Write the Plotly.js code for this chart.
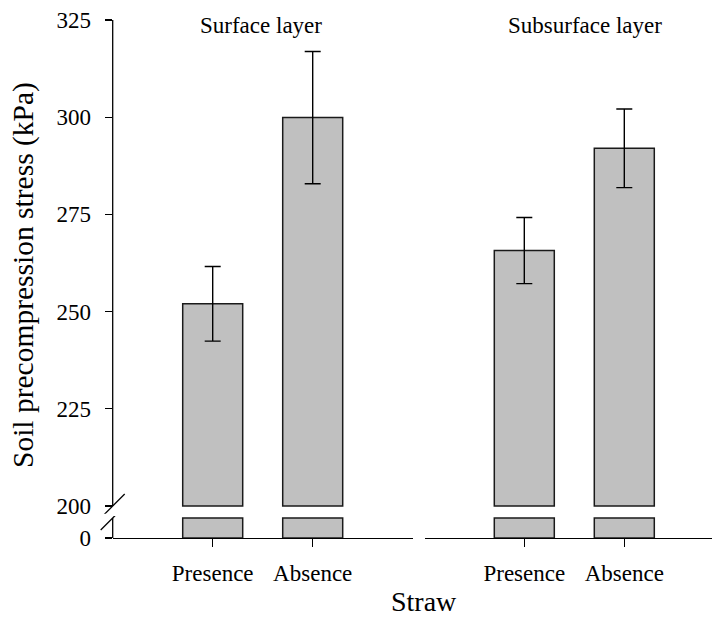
<!DOCTYPE html>
<html>
<head>
<meta charset="utf-8">
<script src="https://cdn.plot.ly/plotly-3.0.1.min.js"></script>
<style>html,body{margin:0;padding:0;background:#fff;}#chart{width:712px;height:619px;}</style>
</head>
<body>
<div id="chart"></div>
<script>
// ---- data ----
const categories = ["Presence", "Absence"];
const surfaceValues = [252.0, 299.9];
const surfaceErrors = [9.6, 17.0];
const subsurfaceValues = [265.7, 292.0];
const subsurfaceErrors = [8.5, 10.1];
const panelTitles = ["Surface layer", "Subsurface layer"];
const upperTicks = [200, 225, 250, 275, 300, 325];
const lowerTicks = [0];
const xTitle = "Straw";
const yTitle = "Soil precompression stress (kPa)";

// ---- layout helpers (pixel -> paper) ----
const W = 712, H = 619;
const px = v => v / W;
const py = v => 1 - v / H;
const breakLow = 200;   // upper segment starts here
const stubTop = 20;     // height of lower stub on the lower axis
const FONT = '"Liberation Serif", "Times New Roman", serif';
const barFill = '#c0c0c0';
const barLine = {color: '#1a1a1a', width: 1.5};

function upper(vals, errs, xa) {
  return {
    type: 'bar', x: categories, y: vals.map(v => v - breakLow), base: breakLow,
    xaxis: xa, yaxis: 'y', width: 0.6,
    marker: {color: barFill, line: barLine},
    error_y: {type: 'data', array: errs, visible: true, color: '#000', thickness: 1.4, width: 8},
    hoverinfo: 'skip'
  };
}
function lower(vals, xa) {
  return {
    type: 'bar', x: categories, y: vals.map(v => Math.min(v, stubTop)),
    xaxis: xa, yaxis: 'y2', width: 0.6,
    marker: {color: barFill, line: barLine},
    hoverinfo: 'skip'
  };
}

const data = [
  upper(surfaceValues, surfaceErrors, 'x'),
  lower(surfaceValues, 'x'),
  upper(subsurfaceValues, subsurfaceErrors, 'x2'),
  lower(subsurfaceValues, 'x2')
];

const axX = {
  type: 'category', anchor: 'y2', showline: true, linecolor: '#000', linewidth: 1.3,
  ticks: 'outside', ticklen: 8, tickwidth: 1.3, tickcolor: '#000',
  tickfont: {family: FONT, size: 23, color: '#000'}, ticklabelstandoff: 6,
  showgrid: false, zeroline: false, fixedrange: true
};
const axY = {
  showline: false, ticks: 'outside', ticklen: 7, tickwidth: 1.3, tickcolor: '#000',
  tickfont: {family: FONT, size: 23, color: '#000'}, ticklabelstandoff: 9,
  showgrid: false, zeroline: false, anchor: 'x', tickmode: 'array', fixedrange: true
};

const yAxisX = px(112.7);
const lineStyle = {color: '#000', width: 1.3};

const layout = {
  width: W, height: H,
  margin: {l: 0, r: 0, t: 0, b: 0},
  paper_bgcolor: '#fff', plot_bgcolor: 'rgba(0,0,0,0)',
  showlegend: false, barmode: 'overlay',
  font: {family: FONT, color: '#000'},
  xaxis: Object.assign({}, axX, {domain: [px(112.7), px(413)], range: [-1, 2.003]}),
  xaxis2: Object.assign({}, axX, {domain: [px(425), 1], range: [-0.993, 1.877]}),
  yaxis: Object.assign({}, axY, {domain: [py(513.8), py(20)], range: [198, 325], tickvals: upperTicks}),
  yaxis2: Object.assign({}, axY, {domain: [py(538), py(516)], range: [0, 22], tickvals: lowerTicks}),
  shapes: [
    {type: 'line', xref: 'paper', yref: 'y', x0: yAxisX, x1: yAxisX, y0: breakLow, y1: 325, line: lineStyle},
    {type: 'line', xref: 'paper', yref: 'y2', x0: yAxisX, x1: yAxisX, y0: 0, y1: stubTop, line: lineStyle},
    {type: 'line', xref: 'paper', xsizemode: 'pixel', xanchor: yAxisX, x0: -12, x1: 12,
     yref: 'y', ysizemode: 'pixel', yanchor: breakLow, y0: -12, y1: 12, line: lineStyle},
    {type: 'line', xref: 'paper', xsizemode: 'pixel', xanchor: yAxisX, x0: -12, x1: 12,
     yref: 'y2', ysizemode: 'pixel', yanchor: stubTop, y0: -12, y1: 12, line: lineStyle}
  ],
  annotations: [
    {text: panelTitles[0], xref: 'paper', yref: 'paper', x: px(261.2), y: py(25), xanchor: 'center', yanchor: 'middle',
     showarrow: false, font: {family: FONT, size: 23, color: '#000'}},
    {text: panelTitles[1], xref: 'paper', yref: 'paper', x: px(585), y: py(25), xanchor: 'center', yanchor: 'middle',
     showarrow: false, font: {family: FONT, size: 23, color: '#000'}},
    {text: xTitle, xref: 'paper', yref: 'paper', x: px(424), y: 0, xanchor: 'center', yanchor: 'bottom',
     showarrow: false, font: {family: FONT, size: 28, color: '#000'}},
    {text: yTitle, xref: 'paper', yref: 'paper', x: px(23.5), y: py(275.5), xanchor: 'center', yanchor: 'middle',
     textangle: -90, showarrow: false, font: {family: FONT, size: 29.5, color: '#000'}}
  ]
};

Plotly.newPlot('chart', data, layout, {displayModeBar: false, staticPlot: true});
</script>
</body>
</html>
